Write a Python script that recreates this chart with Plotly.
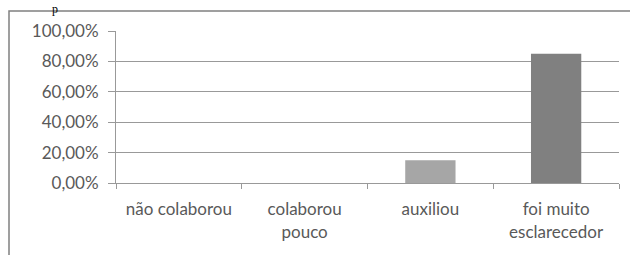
import plotly.graph_objects as go

categories = ["não colaborou", "colaborou<br>pouco", "auxiliou", "foi muito<br>esclarecedor"]
values = [0.0, 0.0, 0.15, 0.85]
bar_colors = ["#a6a6a6", "#a6a6a6", "#a6a6a6", "#808080"]
y_tick_vals = [0, 0.2, 0.4, 0.6, 0.8, 1.0]
y_tick_text = ["0,00%", "20,00%", "40,00%", "60,00%", "80,00%", "100,00%"]

fig = go.Figure()
fig.add_trace(go.Bar(
    x=categories, y=values,
    marker=dict(color=bar_colors, line=dict(width=0)),
    width=0.4,
))

axis_font = dict(family="Lato, 'Open Sans', sans-serif", size=17, color="#595959")

fig.update_layout(
    width=630, height=255,
    margin=dict(l=116, r=11, t=31, b=72),
    paper_bgcolor="white", plot_bgcolor="white",
    showlegend=False,
    xaxis=dict(
        type="category", tickson="boundaries", ticks="outside", ticklen=5,
        tickcolor="#999999", showline=True, linecolor="#999999", linewidth=1,
        showgrid=False, tickfont=axis_font, fixedrange=True,
        ticklabelstandoff=11,
    ),
    yaxis=dict(
        range=[0, 1.0], tickvals=y_tick_vals, ticktext=y_tick_text,
        ticks="outside", ticklen=7, tickcolor="#999999",
        showline=True, linecolor="#999999", linewidth=1,
        showgrid=True, gridcolor="#999999", gridwidth=1,
        zeroline=False, tickfont=axis_font, ticklabelstandoff=6,
        fixedrange=True,
    ),
    shapes=[dict(type="rect", xref="paper", yref="paper",
                 x0=-107/503, x1=1.1, y0=-0.6, y1=1 + 20/152,
                 line=dict(color="#808080", width=1.5), fillcolor="rgba(0,0,0,0)",
                 layer="below")],
    annotations=[dict(text="p", xref="paper", yref="paper",
                      x=-61/503, y=1 + 31/152, xanchor="center", yanchor="top",
                      showarrow=False,
                      font=dict(family="Liberation Serif, serif", size=12, color="#000000"))],
)

fig.write_html("out.html", config={"displayModeBar": False},
               post_script="document.body.style.margin='0';")
